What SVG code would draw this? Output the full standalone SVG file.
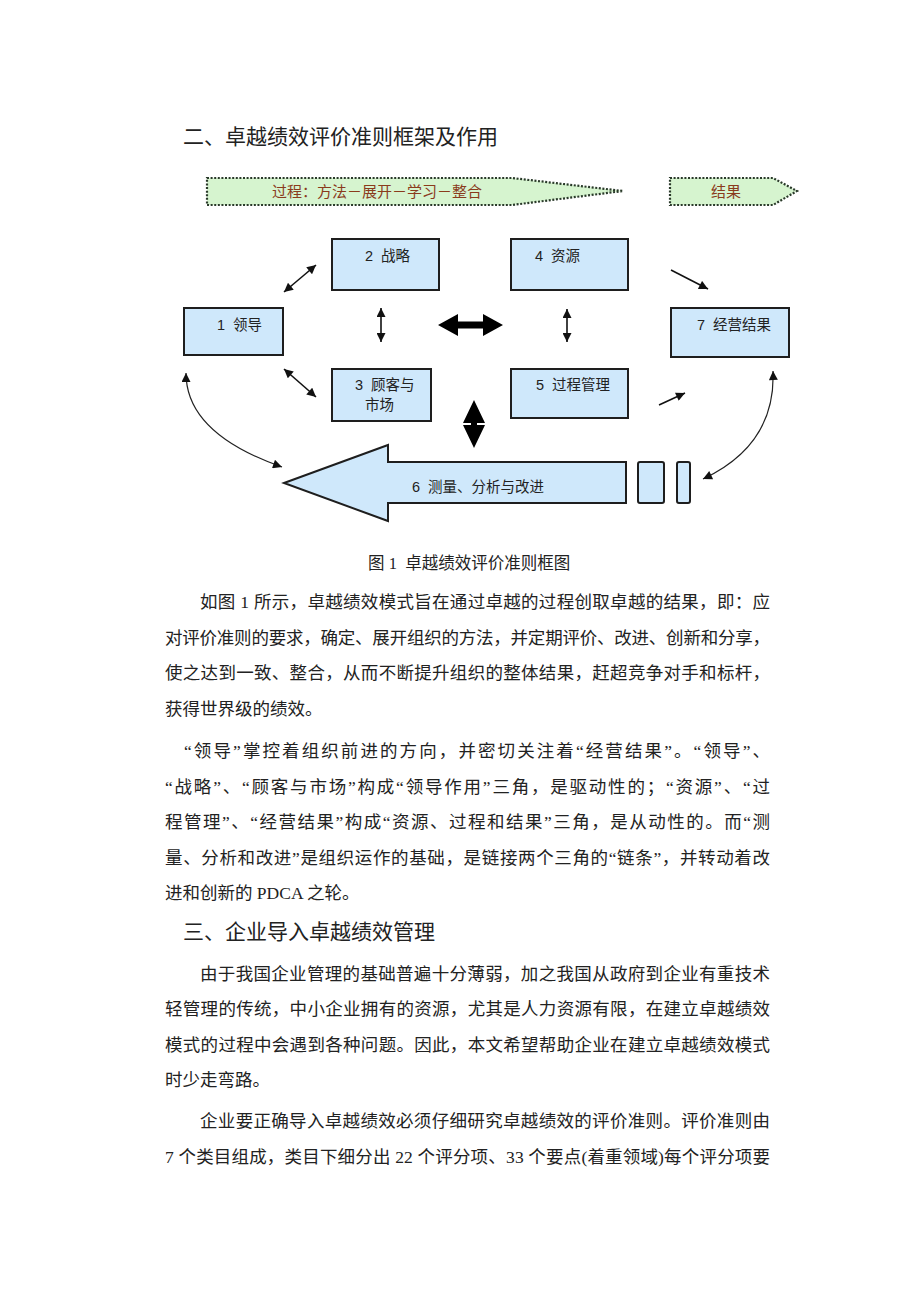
<svg xmlns="http://www.w3.org/2000/svg" width="920" height="1302" viewBox="0 0 920 1302">
<style>
.bg{fill:#ffffff}
.h{font-family:"Liberation Serif","Noto Sans CJK SC",serif;font-size:21px;fill:#222}
.p{font-family:"Liberation Serif","Noto Sans CJK SC",serif;font-size:17.5px;fill:#222}
.cap{font-family:"Liberation Serif","Noto Sans CJK SC",serif;font-size:16.5px;fill:#222;white-space:pre}
.box{fill:#cfe8fb;stroke:#1e1e1e;stroke-width:2}
.bl{font-family:"Liberation Sans","Noto Sans CJK SC",sans-serif;font-size:14.5px;fill:#222;white-space:pre}
.green{fill:#d6f4cf;stroke:#2a3a2a;stroke-width:2.2;stroke-dasharray:2 1.6}
.gt{font-family:"Liberation Serif","Noto Sans CJK SC",serif;font-size:15px;fill:#8a3b1c}
.thin{fill:none;stroke:#111;stroke-width:1.6}
.curve{fill:none;stroke:#222;stroke-width:1.2}
.solid{fill:#000}
</style>
<defs>
<marker id="ah" viewBox="0 0 10 10" refX="10" refY="5" markerWidth="10" markerHeight="9" markerUnits="userSpaceOnUse" orient="auto-start-reverse">
<path d="M0,0 L10,5 L0,10 z" fill="#111"/>
</marker>
</defs>
<rect class="bg" x="0" y="0" width="920" height="1302"/>

<text class="h" x="183" y="144">二、卓越绩效评价准则框架及作用</text>

<g id="band-process">
<polygon class="green" points="207,178 512,178 623,191 512,205 207,205"/>
<text class="gt" x="272" y="197">过程：方法－展开－学习－整合</text>
</g>
<g id="band-result">
<polygon class="green" points="670,178 773,178 797,191 773,205 670,205"/>
<text class="gt" x="711" y="197">结果</text>
</g>

<g id="n1"><rect class="box" x="184" y="308" width="99" height="47"/><text class="bl" x="217" y="330">1  领导</text></g>
<g id="n2"><rect class="box" x="332" y="239" width="107" height="51"/><text class="bl" x="365" y="261">2  战略</text></g>
<g id="n3"><rect class="box" x="332" y="369" width="99" height="52"/><text class="bl" x="355" y="390">3  顾客与</text><text class="bl" x="365" y="410">市场</text></g>
<g id="n4"><rect class="box" x="511" y="239" width="117" height="51"/><text class="bl" x="535" y="261">4  资源</text></g>
<g id="n5"><rect class="box" x="511" y="369" width="117" height="49"/><text class="bl" x="536" y="390">5  过程管理</text></g>
<g id="n7"><rect class="box" x="671" y="308" width="118" height="49"/><text class="bl" x="697" y="330">7  经营结果</text></g>
<g id="n6">
<path class="box" d="M284,483 L388,445 L388,462 L626,462 L626,503 L388,503 L388,521 Z"/>
<rect class="box" x="638" y="462" width="26" height="41" rx="2"/>
<rect class="box" x="677" y="462" width="13" height="41" rx="2"/>
<text class="bl" x="412" y="492">6  测量、分析与改进</text>
</g>

<g id="connectors">
<line class="thin" x1="284" y1="292" x2="316" y2="265" marker-start="url(#ah)" marker-end="url(#ah)"/>
<line class="thin" x1="381" y1="308" x2="381" y2="342" marker-start="url(#ah)" marker-end="url(#ah)"/>
<line class="thin" x1="284" y1="369" x2="316" y2="397" marker-start="url(#ah)" marker-end="url(#ah)"/>
<line class="thin" x1="567" y1="309" x2="567" y2="342" marker-start="url(#ah)" marker-end="url(#ah)"/>
<line class="thin" x1="671" y1="270" x2="708" y2="289" marker-end="url(#ah)"/>
<line class="thin" x1="659" y1="405" x2="685" y2="393" marker-end="url(#ah)"/>
<polygon class="solid" points="438,325 458,314 458,321.5 483,321.5 483,314 503,325 483,336 483,328.5 458,328.5 458,336"/>
<polygon class="solid" points="474,400 485,423 477,423 477,425 485,425 474,448 463,425 471,425 471,423 463,423"/>
<path class="curve" d="M186,373 C186,415 222,446 282,467" marker-start="url(#ah)" marker-end="url(#ah)"/>
<path class="curve" d="M773,371 C775,420 752,456 703,479" marker-start="url(#ah)" marker-end="url(#ah)"/>
</g>

<text class="cap" x="368" y="569">图 1  卓越绩效评价准则框图</text>

<g id="body">
<text class="p" x="200" y="608" textLength="570" lengthAdjust="spacing">如图 1 所示，卓越绩效模式旨在通过卓越的过程创取卓越的结果，即：应</text>
<text class="p" x="165" y="644" textLength="605" lengthAdjust="spacing">对评价准则的要求，确定、展开组织的方法，并定期评价、改进、创新和分享，</text>
<text class="p" x="165" y="679" textLength="605" lengthAdjust="spacing">使之达到一致、整合，从而不断提升组织的整体结果，赶超竞争对手和标杆，</text>
<text class="p" x="165" y="715">获得世界级的绩效。</text>

<text class="p" x="184" y="757" textLength="586" lengthAdjust="spacing">“领导”掌控着组织前进的方向，并密切关注着“经营结果”。“领导”、</text>
<text class="p" x="165" y="793" textLength="605" lengthAdjust="spacing">“战略”、“顾客与市场”构成“领导作用”三角，是驱动性的；“资源”、“过</text>
<text class="p" x="165" y="828" textLength="605" lengthAdjust="spacing">程管理”、“经营结果”构成“资源、过程和结果”三角，是从动性的。而“测</text>
<text class="p" x="165" y="864" textLength="605" lengthAdjust="spacing">量、分析和改进”是组织运作的基础，是链接两个三角的“链条”，并转动着改</text>
<text class="p" x="165" y="899">进和创新的 PDCA 之轮。</text>

<text class="h" x="183" y="939">三、企业导入卓越绩效管理</text>

<text class="p" x="200" y="980" textLength="570" lengthAdjust="spacing">由于我国企业管理的基础普遍十分薄弱，加之我国从政府到企业有重技术</text>
<text class="p" x="165" y="1015" textLength="605" lengthAdjust="spacing">轻管理的传统，中小企业拥有的资源，尤其是人力资源有限，在建立卓越绩效</text>
<text class="p" x="165" y="1051" textLength="605" lengthAdjust="spacing">模式的过程中会遇到各种问题。因此，本文希望帮助企业在建立卓越绩效模式</text>
<text class="p" x="165" y="1086">时少走弯路。</text>

<text class="p" x="200" y="1127" textLength="570" lengthAdjust="spacing">企业要正确导入卓越绩效必须仔细研究卓越绩效的评价准则。评价准则由</text>
<text class="p" x="165" y="1163" textLength="605" lengthAdjust="spacing">7 个类目组成，类目下细分出 22 个评分项、33 个要点(着重领域)每个评分项要</text>
</g>
</svg>
